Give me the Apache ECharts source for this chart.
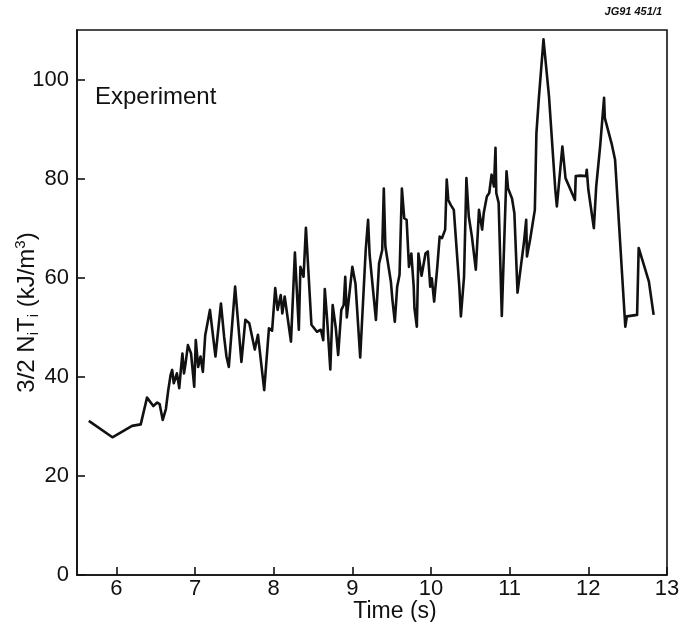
<!DOCTYPE html>
<html>
<head>
<meta charset="utf-8">
<title>Experiment</title>
<script src="https://cdn.jsdelivr.net/npm/echarts@6/dist/echarts.min.js"></script>
<style>
  html, body { margin: 0; padding: 0; background: #fff; }
  #chart { width: 682px; height: 622px; }
</style>
</head>
<body>
<div id="chart"></div>
<script>
// Stored ion energy, 3/2 NiTi, against time
const times = [
  5.65, 5.95, 6.20, 6.31, 6.39, 6.47, 6.52, 6.55, 6.59, 6.63,
  6.66, 6.69, 6.71, 6.73, 6.77, 6.80, 6.82, 6.84, 6.86, 6.88,
  6.91, 6.95, 6.99, 7.01, 7.04, 7.07, 7.10, 7.13, 7.19, 7.26,
  7.33, 7.37, 7.40, 7.43, 7.51, 7.59, 7.64, 7.69, 7.76, 7.80,
  7.88, 7.94, 7.98, 8.02, 8.05, 8.09, 8.11, 8.14, 8.22, 8.27,
  8.32, 8.34, 8.38, 8.41, 8.48, 8.55, 8.60, 8.63, 8.65, 8.68,
  8.72, 8.75, 8.79, 8.82, 8.86, 8.89, 8.91, 8.93, 9.00, 9.04,
  9.10, 9.17, 9.20, 9.22, 9.30, 9.34, 9.38, 9.40, 9.42, 9.49,
  9.51, 9.54, 9.57, 9.60, 9.63, 9.66, 9.69, 9.72, 9.75, 9.78,
  9.79, 9.82, 9.84, 9.88, 9.93, 9.96, 9.99, 10.01, 10.04, 10.08,
  10.11, 10.14, 10.18, 10.20, 10.22, 10.25, 10.29, 10.36, 10.38, 10.42,
  10.45, 10.48, 10.52, 10.57, 10.61, 10.65, 10.67, 10.71, 10.74, 10.77,
  10.80, 10.82, 10.83, 10.86, 10.90, 10.96, 10.98, 11.03, 11.06, 11.10,
  11.14, 11.18, 11.21, 11.22, 11.26, 11.32, 11.34, 11.37, 11.43, 11.50,
  11.58, 11.60, 11.67, 11.71, 11.83, 11.84, 11.90, 11.97, 11.98, 12.00,
  12.07, 12.10, 12.15, 12.20, 12.21, 12.30, 12.34, 12.47, 12.49, 12.62,
  12.64, 12.70, 12.77, 12.83
];
const energy = [
  31.1, 27.8, 30.1, 30.4, 35.8, 34.1, 34.8, 34.5, 31.3, 33.5,
  37.3, 40.4, 41.4, 38.7, 40.7, 37.7, 41.4, 44.7, 40.7, 42.7,
  46.4, 44.7, 38.0, 47.4, 42.0, 44.1, 41.0, 48.4, 53.5, 44.1,
  54.8, 48.1, 44.1, 42.0, 58.2, 43.0, 51.5, 50.8, 45.5, 48.5,
  37.3, 49.8, 49.3, 57.9, 53.5, 56.5, 52.8, 56.2, 47.1, 65.1,
  49.5, 62.2, 60.2, 70.1, 50.5, 49.1, 49.5, 47.4, 57.7, 51.5,
  41.5, 54.5, 49.8, 44.4, 53.5, 54.5, 60.2, 52.0, 62.2, 58.8,
  43.9, 65.6, 71.7, 64.6, 51.5, 62.9, 65.6, 78.0, 66.3, 59.2,
  55.5, 51.1, 58.2, 60.6, 78.0, 72.0, 71.7, 62.2, 64.9, 58.2,
  53.8, 50.1, 64.9, 60.4, 64.9, 65.3, 58.2, 59.9, 55.2, 62.2,
  68.3, 68.0, 69.7, 79.8, 75.7, 74.7, 73.7, 58.2, 52.2, 60.2,
  80.1, 72.4, 68.3, 61.6, 73.7, 69.7, 73.0, 76.4, 77.1, 80.8,
  78.4, 86.2, 77.1, 75.1, 52.3, 81.5, 78.0, 76.0, 73.0, 57.0,
  62.0, 66.9, 71.7, 64.3, 67.7, 73.7, 89.2, 96.0, 108.1, 96.6,
  77.8, 74.4, 86.5, 80.1, 75.7, 80.5, 80.6, 80.5, 81.8, 77.8,
  70.0, 78.4, 86.5, 96.3, 92.2, 86.8, 83.8, 50.1, 52.2, 52.5,
  66.0, 62.9, 59.2, 52.5
];
const timeTicks = [6, 7, 8, 9, 10, 11, 12, 13];
const energyTicks = [0, 20, 40, 60, 80, 100];

const seriesData = times.map((t, i) => [t, energy[i]]);
const ink = '#111';
const fontFamily = '"Liberation Sans", Arial, Helvetica, sans-serif';

const chart = echarts.init(document.getElementById('chart'), null, { renderer: 'canvas' });
chart.setOption({
  animation: false,
  backgroundColor: '#fff',
  textStyle: { fontFamily: fontFamily, color: ink },
  grid: {
    left: 77, right: 15, top: 30, bottom: 47,
    outerBoundsMode: 'none',
    containLabel: false,
    show: true, borderColor: ink, borderWidth: 1.6, backgroundColor: 'transparent'
  },
  graphic: [
    {
      type: 'text', left: 95, top: 85,
      style: { text: 'Experiment', fontSize: 24, fontFamily: fontFamily, fill: ink }
    },
    {
      type: 'text', right: 20, top: 6,
      style: { text: 'JG91 451/1', fontSize: 11, fontWeight: 'bold', fontStyle: 'italic', fontFamily: fontFamily, fill: ink }
    }
  ],
  xAxis: {
    type: 'value', min: 5.5, max: 13,
    name: 'Time (s)', nameLocation: 'middle', nameGap: 25, nameMoveOverlap: false,
    nameTextStyle: { fontSize: 23, color: ink, fontFamily: fontFamily, padding: [0, 0, 0, 46] },
    axisLine: { show: true, lineStyle: { color: ink, width: 1.6 } },
    axisTick: { show: true, inside: true, length: 8, customValues: timeTicks, lineStyle: { color: ink, width: 1.6 } },
    axisLabel: { customValues: timeTicks, fontSize: 22, color: ink, margin: 3, fontFamily: fontFamily },
    splitLine: { show: false }
  },
  yAxis: {
    type: 'value', min: 0, max: 110,
    name: '3/2 N{sub|i}T{sub|i} (kJ/m{sup|3})', nameLocation: 'middle', nameGap: 50, nameMoveOverlap: false,
    nameTextStyle: {
      fontSize: 24, color: ink, fontFamily: fontFamily, lineHeight: 28, verticalAlign: 'middle',
      padding: [0, 20, 0, 0],
      rich: {
        sub: { fontSize: 15, lineHeight: 15, verticalAlign: 'bottom', color: ink, fontFamily: fontFamily },
        sup: { fontSize: 15, lineHeight: 15, verticalAlign: 'top', color: ink, fontFamily: fontFamily }
      }
    },
    axisLine: { show: true, lineStyle: { color: ink, width: 1.6 } },
    axisTick: { show: true, inside: true, length: 8, customValues: energyTicks, lineStyle: { color: ink, width: 1.6 } },
    axisLabel: { customValues: energyTicks, fontSize: 22, color: ink, margin: 8, fontFamily: fontFamily },
    splitLine: { show: false }
  },
  series: [{
    type: 'line',
    data: seriesData,
    showSymbol: false,
    symbol: 'none',
    lineStyle: { color: ink, width: 2.6, join: 'round' },
    emphasis: { disabled: true }
  }]
});
</script>
</body>
</html>
